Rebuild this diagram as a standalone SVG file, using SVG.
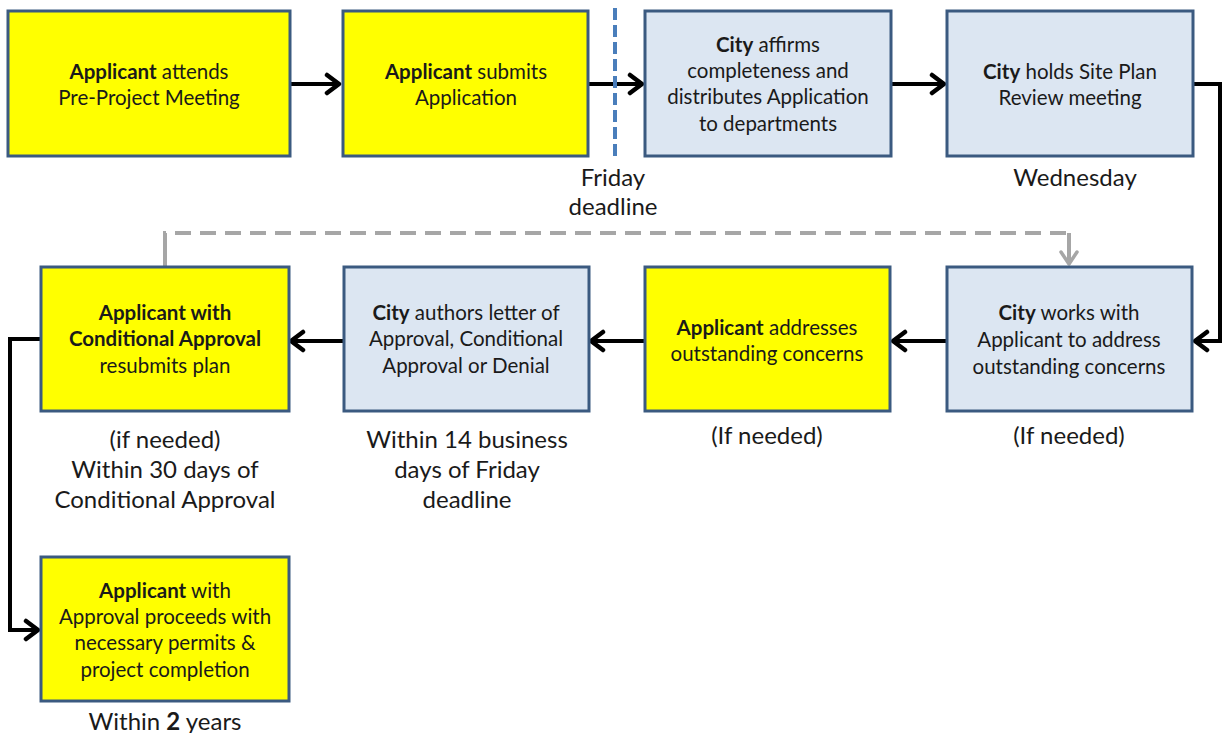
<svg xmlns="http://www.w3.org/2000/svg" width="1225" height="733" viewBox="0 0 1225 733">
<style>
.y{fill:#FFFF00;stroke:#3B5A80;stroke-width:3}
.b{fill:#DCE6F2;stroke:#3B5A80;stroke-width:3}
text{font-family:Lato,"Liberation Sans",sans-serif;fill:#1a1a1a;text-anchor:middle}
.t{font-size:20.5px}
.l{font-size:24px}
.bd{font-weight:bold}
.c{fill:none;stroke:#000;stroke-width:4}
.g{fill:none;stroke:#A6A6A6;stroke-width:4}
</style>
<defs>
<marker id="ah" markerUnits="userSpaceOnUse" viewBox="0 0 18 24" refX="15" refY="12" markerWidth="18" markerHeight="24" orient="auto">
<path d="M3,3 L15,12 L3,21" fill="none" stroke="#000" stroke-width="4.5" stroke-linecap="round" stroke-linejoin="round"/>
</marker>
<marker id="ahg" markerUnits="userSpaceOnUse" viewBox="0 0 18 24" refX="15" refY="12" markerWidth="18" markerHeight="24" orient="auto">
<path d="M3,4 L15,12 L3,20" fill="none" stroke="#A6A6A6" stroke-width="3.5" stroke-linecap="round" stroke-linejoin="round"/>
</marker>
</defs>
<rect width="1225" height="733" fill="#fff"/>
<g id="connectors">
<line class="c" x1="290" y1="84" x2="339" y2="84" marker-end="url(#ah)"/>
<line class="c" x1="588" y1="84" x2="642" y2="84" marker-end="url(#ah)"/>
<line class="c" x1="891" y1="84" x2="944" y2="84" marker-end="url(#ah)"/>
<polyline class="c" points="1193,84 1220,84 1220,341 1195,341" marker-end="url(#ah)"/>
<line class="c" x1="947" y1="341" x2="893" y2="341" marker-end="url(#ah)"/>
<line class="c" x1="645" y1="341" x2="591" y2="341" marker-end="url(#ah)"/>
<line class="c" x1="344" y1="341" x2="291" y2="341" marker-end="url(#ah)"/>
<polyline class="c" points="41,339 10,339 10,630 38,630" marker-end="url(#ah)"/>
<line class="g" x1="165" y1="266" x2="165" y2="248"/>
<polyline class="g" points="165,248 165,233 1069,233" stroke-dasharray="16,9"/>
<line class="g" x1="1069" y1="233" x2="1069" y2="264" marker-end="url(#ahg)"/>
<line x1="615" y1="8" x2="615" y2="161" stroke="#4A7EBB" stroke-width="4" stroke-dasharray="12,5"/>
</g>
<g id="n1"><rect class="y" x="8" y="11" width="282" height="145"/>
<text class="t" x="149" y="79"><tspan class="bd">Applicant</tspan> attends</text>
<text class="t" x="149" y="105">Pre-Project Meeting</text></g>
<g id="n2"><rect class="y" x="343" y="11" width="245" height="145"/>
<text class="t" x="466" y="79"><tspan class="bd">Applicant</tspan> submits</text>
<text class="t" x="466" y="105">Application</text></g>
<g id="n3"><rect class="b" x="645" y="11" width="246" height="145"/>
<text class="t" x="768" y="52"><tspan class="bd">City</tspan> affirms</text>
<text class="t" x="768" y="78">completeness and</text>
<text class="t" x="768" y="104">distributes Application</text>
<text class="t" x="768" y="131">to departments</text></g>
<g id="n4"><rect class="b" x="947" y="11" width="246" height="145"/>
<text class="t" x="1070" y="79"><tspan class="bd">City</tspan> holds Site Plan</text>
<text class="t" x="1070" y="105">Review meeting</text></g>
<g id="n5"><rect class="y" x="41" y="267" width="248" height="144"/>
<text class="t bd" x="165" y="320">Applicant with</text>
<text class="t bd" x="165" y="346">Conditional Approval</text>
<text class="t" x="165" y="373">resubmits plan</text></g>
<g id="n6"><rect class="b" x="344" y="267" width="245" height="144"/>
<text class="t" x="466" y="320"><tspan class="bd">City</tspan> authors letter of</text>
<text class="t" x="466" y="346">Approval, Conditional</text>
<text class="t" x="466" y="373">Approval or Denial</text></g>
<g id="n7"><rect class="y" x="645" y="267" width="245" height="144"/>
<text class="t" x="767" y="335"><tspan class="bd">Applicant</tspan> addresses</text>
<text class="t" x="767" y="361">outstanding concerns</text></g>
<g id="n8"><rect class="b" x="947" y="267" width="245" height="144"/>
<text class="t" x="1069" y="320"><tspan class="bd">City</tspan> works with</text>
<text class="t" x="1069" y="347">Applicant to address</text>
<text class="t" x="1069" y="374">outstanding concerns</text></g>
<g id="n9"><rect class="y" x="41" y="557" width="248" height="144"/>
<text class="t" x="165" y="598"><tspan class="bd">Applicant</tspan> with</text>
<text class="t" x="165" y="624">Approval proceeds with</text>
<text class="t" x="165" y="650">necessary permits &amp;</text>
<text class="t" x="165" y="677">project completion</text></g>
<g id="labels">
<text class="l" x="613" y="186">Friday</text>
<text class="l" x="613" y="215">deadline</text>
<text class="l" x="1075" y="186">Wednesday</text>
<text class="l" x="165" y="448">(if needed)</text>
<text class="l" x="165" y="478">Within 30 days of</text>
<text class="l" x="165" y="508">Conditional Approval</text>
<text class="l" x="467" y="448">Within 14 business</text>
<text class="l" x="467" y="478">days of Friday</text>
<text class="l" x="467" y="508">deadline</text>
<text class="l" x="767" y="444">(If needed)</text>
<text class="l" x="1069" y="444">(If needed)</text>
<text class="l" x="165" y="730">Within <tspan class="bd">2</tspan> years</text>
</g>
</svg>
